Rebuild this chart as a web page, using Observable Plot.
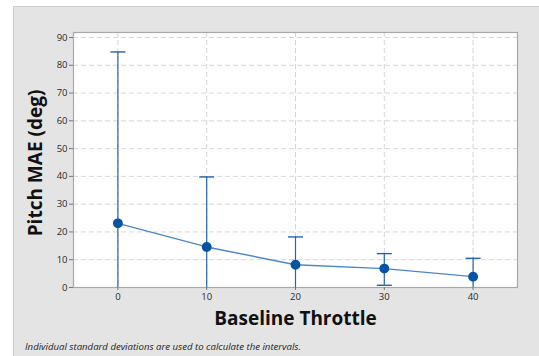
<!DOCTYPE html>
<html>
<head>
<meta charset="utf-8">
<script src="https://cdn.jsdelivr.net/npm/d3@7"></script>
<script src="https://cdn.jsdelivr.net/npm/@observablehq/plot@0.6"></script>
<style>
  html, body { margin: 0; padding: 0; background: #ffffff; }
  #wrap { position: relative; width: 539px; height: 356px; overflow: hidden; }
  #panel { position: absolute; left: 13px; top: 6px; width: 526px; height: 350px;
           background: #e4e4e4; border-left: 1px solid #cdcdcd; border-top: 1px solid #cdcdcd; box-sizing: border-box; }
  #chart { position: absolute; left: 0; top: 0; }
  #note { position: absolute; left: 25px; top: 340px; font: italic 9.6px "Open Sans", sans-serif; color: #222; white-space: nowrap; }
</style>
</head>
<body>
<div id="wrap">
  <div id="panel"></div>
  <div id="chart"></div>
  <div id="note">Individual standard deviations are used to calculate the intervals.</div>
</div>
<script>
const throttle = [0, 10, 20, 30, 40];
const meanMAE = [23.1, 14.6, 8.2, 6.8, 3.9];
const upperMAE = [84.8, 39.8, 18.2, 12.2, 10.5];
const lowerMAE = [-38.6, -10.6, -1.8, 0.8, -2.7];
const xTicks = [0, 10, 20, 30, 40];
const yTicks = [0, 10, 20, 30, 40, 50, 60, 70, 80, 90];
const xLabel = "Baseline Throttle";
const yLabel = "Pitch MAE (deg)";

const data = throttle.map((t, i) => ({t, mean: meanMAE[i], hi: upperMAE[i], lo: lowerMAE[i]}));

const capSymbol = {
  draw(context, size) {
    const w = 7.5;
    context.moveTo(-w, 0);
    context.lineTo(w, 0);
  }
};

const barColor = "#2563ad";
const lineColor = "#4a87c8";
const dotColor = "#0652a3";

const chart = Plot.plot({
  width: 539,
  height: 356,
  marginLeft: 73,
  marginRight: 22,
  marginTop: 32,
  marginBottom: 69,
  style: { background: "transparent", fontFamily: "'Open Sans', sans-serif", overflow: "visible" },
  x: { domain: [-5, 45], ticks: xTicks, label: null, tickSize: 3, tickPadding: 3 },
  y: { domain: [0, 91.8], ticks: yTicks, label: null, tickSize: 4, tickPadding: 2 },
  marks: [
    Plot.frame({ fill: "white", stroke: "none" }),
    Plot.gridX(xTicks, { stroke: "#d6d6d6", strokeOpacity: 1, strokeDasharray: "5,3" }),
    Plot.gridY(yTicks, { stroke: "#d6d6d6", strokeOpacity: 1, strokeDasharray: "5,3" }),
    Plot.frame({ stroke: "#a8a8a8", strokeWidth: 1.2 }),
    Plot.axisX({ ticks: xTicks, tickSize: 3, tickPadding: 3, fontSize: 9.5, fill: "#2a2a2a", stroke: "#777", label: null }),
    Plot.axisY({ ticks: yTicks, tickSize: 4, tickPadding: 2, fontSize: 9.5, fill: "#2a2a2a", stroke: "#777", label: null }),
    Plot.ruleX(data, { x: "t", y1: "lo", y2: "hi", stroke: barColor, strokeWidth: 1.2, clip: "frame" }),
    Plot.dot(data, { x: "t", y: "hi", symbol: capSymbol, r: 5, stroke: barColor, strokeWidth: 1.4, clip: "frame" }),
    Plot.dot(data, { x: "t", y: "lo", symbol: capSymbol, r: 5, stroke: barColor, strokeWidth: 1.4, clip: "frame" }),
    Plot.line(data, { x: "t", y: "mean", stroke: lineColor, strokeWidth: 1.4 }),
    Plot.dot(data, { x: "t", y: "mean", r: 4.2, fill: dotColor, stroke: dotColor }),
    Plot.text([xLabel], { frameAnchor: "bottom", dy: 37, text: d => d, fontSize: 19, fontWeight: "bold", fill: "#111" }),
    Plot.text([yLabel], { frameAnchor: "left", dx: -38, dy: 3, rotate: -90, textAnchor: "middle", text: d => d, fontSize: 19, fontWeight: "bold", fill: "#111" })
  ]
});
document.getElementById("chart").appendChild(chart);
</script>
</body>
</html>
